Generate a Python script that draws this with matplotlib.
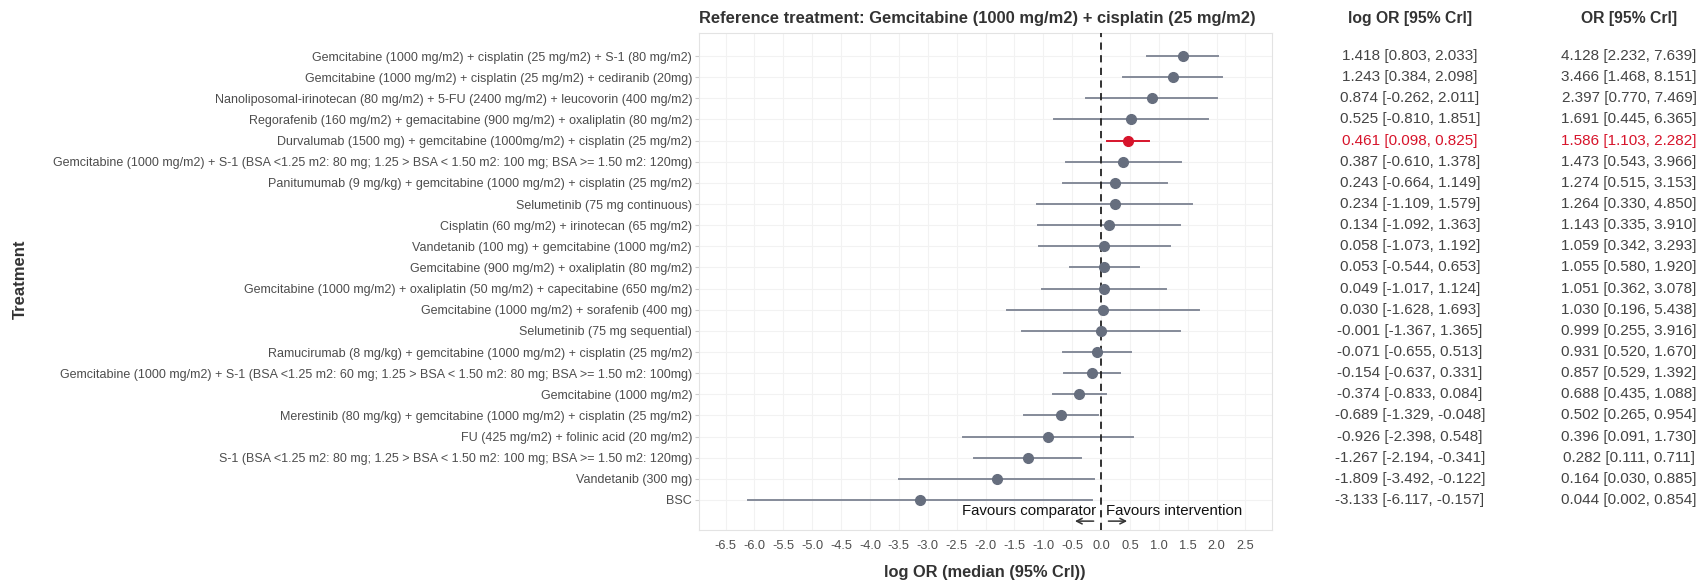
import numpy as np
import matplotlib
matplotlib.use("Agg")
import matplotlib.pyplot as plt
import matplotlib.transforms as mtransforms

plt.rcParams['font.family'] = ['Liberation Sans', 'DejaVu Sans']

# treatments, top to bottom
treatments = [
    "Gemcitabine (1000 mg/m2) + cisplatin (25 mg/m2) + S-1 (80 mg/m2)",
    "Gemcitabine (1000 mg/m2) + cisplatin (25 mg/m2) + cediranib (20mg)",
    "Nanoliposomal-irinotecan (80 mg/m2) + 5-FU (2400 mg/m2) + leucovorin (400 mg/m2)",
    "Regorafenib (160 mg/m2) + gemacitabine (900 mg/m2) + oxaliplatin (80 mg/m2)",
    "Durvalumab (1500 mg) + gemcitabine (1000mg/m2) + cisplatin (25 mg/m2)",
    "Gemcitabine (1000 mg/m2) + S-1 (BSA <1.25 m2: 80 mg; 1.25 > BSA < 1.50 m2: 100 mg; BSA >= 1.50 m2: 120mg)",
    "Panitumumab (9 mg/kg) + gemcitabine (1000 mg/m2) + cisplatin (25 mg/m2)",
    "Selumetinib (75 mg continuous)",
    "Cisplatin (60 mg/m2) + irinotecan (65 mg/m2)",
    "Vandetanib (100 mg) + gemcitabine (1000 mg/m2)",
    "Gemcitabine (900 mg/m2) + oxaliplatin (80 mg/m2)",
    "Gemcitabine (1000 mg/m2) + oxaliplatin (50 mg/m2) + capecitabine (650 mg/m2)",
    "Gemcitabine (1000 mg/m2) + sorafenib (400 mg)",
    "Selumetinib (75 mg sequential)",
    "Ramucirumab (8 mg/kg) + gemcitabine (1000 mg/m2) + cisplatin (25 mg/m2)",
    "Gemcitabine (1000 mg/m2) + S-1 (BSA <1.25 m2: 60 mg; 1.25 > BSA < 1.50 m2: 80 mg; BSA >= 1.50 m2: 100mg)",
    "Gemcitabine (1000 mg/m2)",
    "Merestinib (80 mg/kg) + gemcitabine (1000 mg/m2) + cisplatin (25 mg/m2)",
    "FU (425 mg/m2) + folinic acid (20 mg/m2)",
    "S-1 (BSA <1.25 m2: 80 mg; 1.25 > BSA < 1.50 m2: 100 mg; BSA >= 1.50 m2: 120mg)",
    "Vandetanib (300 mg)",
    "BSC",
]

log_med = [1.418, 1.243, 0.874, 0.525, 0.461, 0.387, 0.243, 0.234, 0.134, 0.058, 0.053,
           0.049, 0.030, -0.001, -0.071, -0.154, -0.374, -0.689, -0.926, -1.267, -1.809, -3.133]
log_lo = [0.803, 0.384, -0.262, -0.810, 0.098, -0.610, -0.664, -1.109, -1.092, -1.073, -0.544,
          -1.017, -1.628, -1.367, -0.655, -0.637, -0.833, -1.329, -2.398, -2.194, -3.492, -6.117]
log_hi = [2.033, 2.098, 2.011, 1.851, 0.825, 1.378, 1.149, 1.579, 1.363, 1.192, 0.653,
          1.124, 1.693, 1.365, 0.513, 0.331, 0.084, -0.048, 0.548, -0.341, -0.122, -0.157]

or_med = [4.128, 3.466, 2.397, 1.691, 1.586, 1.473, 1.274, 1.264, 1.143, 1.059, 1.055,
          1.051, 1.030, 0.999, 0.931, 0.857, 0.688, 0.502, 0.396, 0.282, 0.164, 0.044]
or_lo = [2.232, 1.468, 0.770, 0.445, 1.103, 0.543, 0.515, 0.330, 0.335, 0.342, 0.580,
         0.362, 0.196, 0.255, 0.520, 0.529, 0.435, 0.265, 0.091, 0.111, 0.030, 0.002]
or_hi = [7.639, 8.151, 7.469, 6.365, 2.282, 3.966, 3.153, 4.850, 3.910, 3.293, 1.920,
         3.078, 5.438, 3.916, 1.670, 1.392, 1.088, 0.954, 1.730, 0.711, 0.885, 0.854]

highlight = "Durvalumab (1500 mg) + gemcitabine (1000mg/m2) + cisplatin (25 mg/m2)"

x_ticks = np.arange(-6.5, 2.51, 0.5)

W, H = 1707, 584
fig = plt.figure(figsize=(W / 100, H / 100), dpi=100)
ax = fig.add_axes([699 / W, (H - 530) / H, (1272 - 699) / W, (530 - 33) / H])

n = len(treatments)
ypos = np.arange(n, 0, -1)

grey_pt = "#666e7e"
grey_ln = "#858b99"
red = "#d7142b"
txt = "#4d4d4d"

ax.axvline(0, color="#222222", linestyle=(0, (4, 3)), linewidth=1.3, zorder=4)
for i, t in enumerate(treatments):
    c_pt = red if t == highlight else grey_pt
    c_ln = red if t == highlight else grey_ln
    ax.plot([log_lo[i], log_hi[i]], [ypos[i], ypos[i]], color=c_ln, linewidth=1.4, zorder=3)
    ax.plot(log_med[i], ypos[i], 'o', color=c_pt, markersize=7, zorder=5)

ax.set_xlim(-6.96, 2.96)
ax.set_ylim(-0.42, n + 1.09)
ax.set_xticks(x_ticks)
ax.set_xticklabels(["%.1f" % v for v in x_ticks], fontsize=9.2, color=txt)
ax.set_yticks(ypos)
ax.set_yticklabels(treatments, fontsize=9, color=txt)
ax.tick_params(axis='y', length=3, color="#cccccc", pad=2)
ax.tick_params(axis='x', length=0, pad=7)
ax.grid(True, color="#f2f2f2", linewidth=0.8)
ax.set_axisbelow(True)
for s in ax.spines.values():
    s.set_color("#e3e3e3")

# favours annotation
ax.text(-0.08, 0.5, "Favours comparator", ha='right', va='center', fontsize=10.8, color="#111111")
ax.text(0.08, 0.5, "Favours intervention", ha='left', va='center', fontsize=10.8, color="#111111")
ax.annotate("", xy=(-0.5, 0), xytext=(-0.08, 0),
            arrowprops=dict(arrowstyle="->", color="#333333", lw=1.1))
ax.annotate("", xy=(0.5, 0), xytext=(0.08, 0),
            arrowprops=dict(arrowstyle="->", color="#333333", lw=1.1))

# titles
fig.text(699 / W, 1 - 19 / H, "Reference treatment: Gemcitabine (1000 mg/m2) + cisplatin (25 mg/m2)",
         ha='left', va='center', fontsize=11.85, fontweight='bold', color="#333333")
fig.text(985 / W, 1 - 572 / H, "log OR (median (95% Crl))", ha='center', va='center',
         fontsize=11.8, fontweight='bold', color="#333333")
fig.text(20 / W, 1 - 279 / H, "Treatment", ha='center', va='center', rotation=90,
         fontsize=12, fontweight='bold', color="#333333")

# right-hand columns
trans = mtransforms.blended_transform_factory(fig.transFigure, ax.transData)
fig.text(1410 / W, 1 - 18 / H, "log OR [95% Crl]", ha='center', va='center',
         fontsize=11.3, fontweight='bold', color="#333333")
fig.text(1629 / W, 1 - 18 / H, "OR [95% Crl]", ha='center', va='center',
         fontsize=11.3, fontweight='bold', color="#333333")
for i, t in enumerate(treatments):
    col = red if t == highlight else "#444444"
    ax.text(1410 / W, ypos[i], "%.3f [%.3f, %.3f]" % (log_med[i], log_lo[i], log_hi[i]),
            transform=trans, ha='center', va='center', fontsize=11, color=col)
    ax.text(1629 / W, ypos[i], "%.3f [%.3f, %.3f]" % (or_med[i], or_lo[i], or_hi[i]),
            transform=trans, ha='center', va='center', fontsize=11, color=col)

fig.savefig("out.png", dpi=100)
